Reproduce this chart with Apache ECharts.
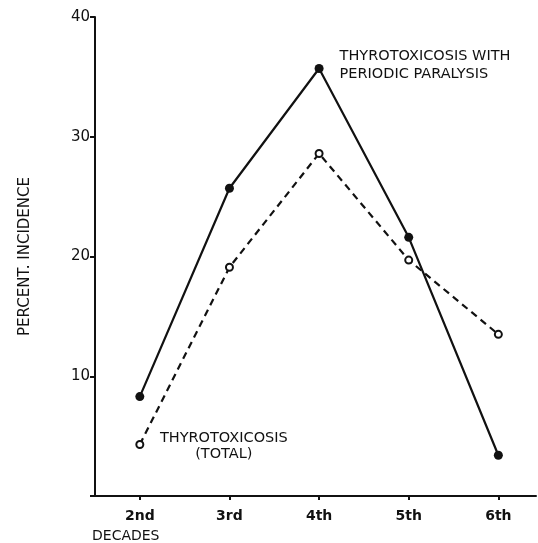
<!DOCTYPE html>
<html>
<head>
<meta charset="utf-8">
<script src="https://cdn.jsdelivr.net/npm/echarts@6/dist/echarts.min.js"></script>
<style>
html,body{margin:0;padding:0;background:#fff;}
#c{width:538px;height:543px;}
</style>
</head>
<body>
<div id="c"></div>
<script>
// Data
const decades = ['2nd', '3rd', '4th', '5th', '6th'];
const decadeIndex = [2, 3, 4, 5, 6];
const withParalysis = [8.3, 25.7, 35.7, 21.6, 3.4];
const totalIncidence = [4.3, 19.1, 28.6, 19.7, 13.5];
const yTicks = [10, 20, 30, 40];
const labelParalysis = 'THYROTOXICOSIS WITH\nPERIODIC PARALYSIS';
const labelTotal = 'THYROTOXICOSIS\n(TOTAL)';

const FONT = 'DejaVu Sans';
const INK = '#111';

const chart = echarts.init(document.getElementById('c'), null, {renderer: 'canvas'});

const paraData = decadeIndex.map((x, i) => {
  const d = {value: [x, withParalysis[i]]};
  if (i === 2) {
    d.label = {
      show: true, position: 'right', distance: 16, offset: [0, -3],
      formatter: labelParalysis, align: 'left',
      fontFamily: FONT, fontSize: 14.5, color: INK, lineHeight: 18
    };
  }
  return d;
});
const totalData = decadeIndex.map((x, i) => {
  const d = {value: [x, totalIncidence[i]]};
  if (i === 0) {
    d.label = {
      show: true, position: 'inside', offset: [84, 2],
      formatter: labelTotal, align: 'center', verticalAlign: 'middle',
      fontFamily: FONT, fontSize: 14.5, color: INK, lineHeight: 16
    };
  }
  return d;
});

chart.setOption({
  animation: false,
  backgroundColor: '#fff',
  title: {
    text: 'DECADES', left: 92, top: 529, padding: 0,
    textStyle: {fontFamily: FONT, fontSize: 14, fontWeight: 'normal', color: INK}
  },
  grid: {left: 95, right: 2, top: 17, bottom: 47},
  xAxis: {
    type: 'value', min: 1.5, max: 6.42,
    splitLine: {show: false},
    axisLine: {show: true, onZero: false, lineStyle: {color: INK, width: 2}},
    axisTick: {show: true, customValues: decadeIndex, length: 4, lineStyle: {color: INK, width: 2}},
    axisLabel: {
      customValues: decadeIndex,
      formatter: v => decades[decadeIndex.indexOf(Math.round(v))] || '',
      fontFamily: FONT, fontSize: 14, fontWeight: 'bold', color: INK, margin: 13
    }
  },
  yAxis: {
    type: 'value', min: 0, max: 40, interval: 10,
    name: 'PERCENT. INCIDENCE', nameLocation: 'middle', nameGap: 62, nameRotate: 90,
    nameTextStyle: {fontFamily: FONT, fontSize: 15, color: INK},
    splitLine: {show: false},
    axisLine: {show: true, lineStyle: {color: INK, width: 2}},
    axisTick: {show: true, length: 5, lineStyle: {color: INK, width: 2}},
    axisLabel: {
      formatter: v => (yTicks.indexOf(v) >= 0 ? String(v) : ''),
      fontFamily: FONT, fontSize: 15, color: INK, margin: 5
    }
  },
  series: [
    {
      type: 'line', name: 'Thyrotoxicosis with periodic paralysis',
      data: paraData,
      symbol: 'circle', symbolSize: 9,
      itemStyle: {color: INK, borderColor: INK, borderWidth: 0},
      lineStyle: {color: INK, width: 2.2, type: 'solid'},
      z: 3
    },
    {
      type: 'line', name: 'Thyrotoxicosis (total)',
      data: totalData,
      symbol: 'circle', symbolSize: 7,
      showAllSymbol: true,
      itemStyle: {color: '#fff', borderColor: INK, borderWidth: 2},
      lineStyle: {color: INK, width: 2.2, type: [7, 5]},
      z: 2
    }
  ]
});
</script>
</body>
</html>
